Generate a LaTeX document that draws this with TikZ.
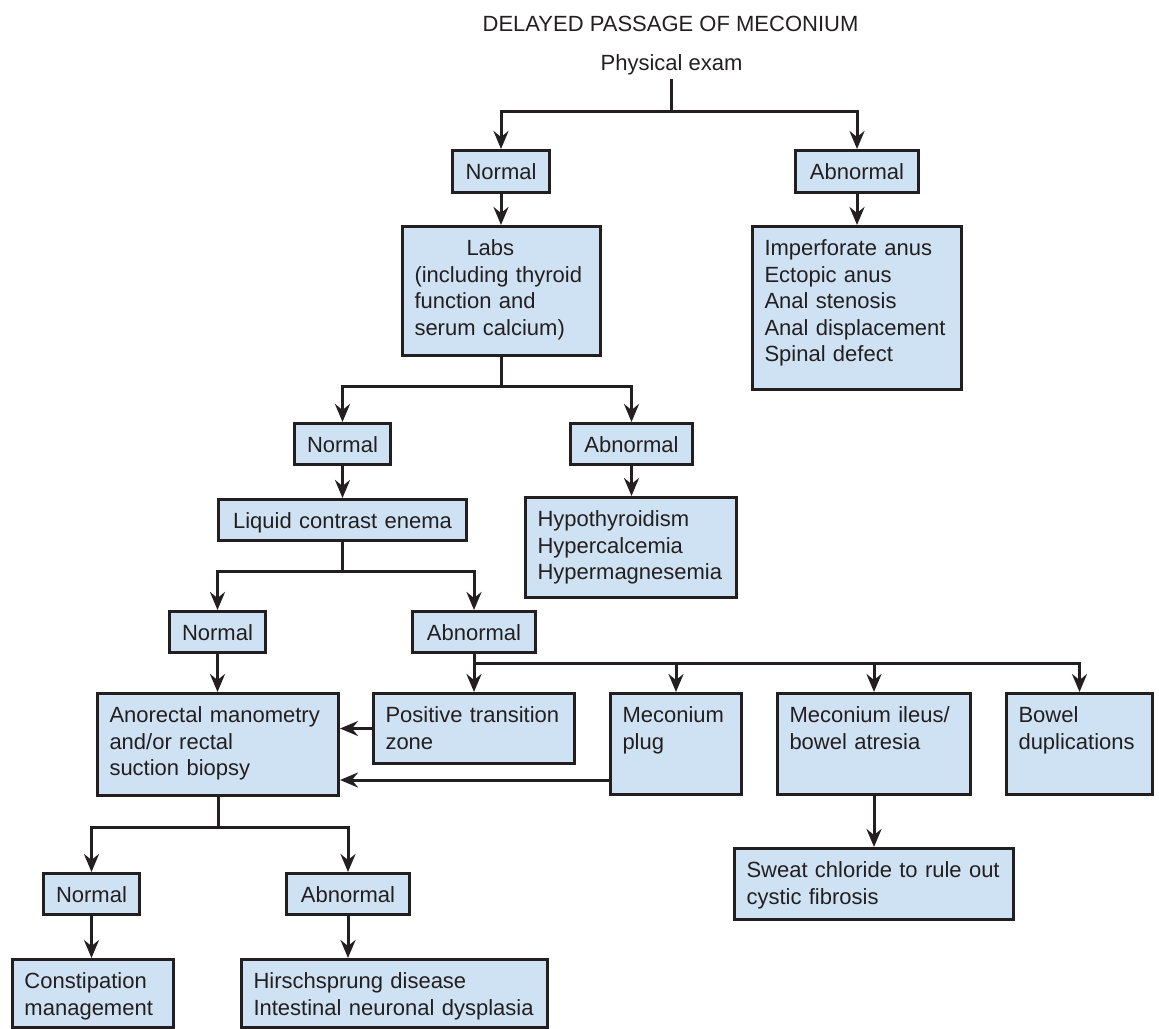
\documentclass[tikz,border=0pt]{standalone}
\usepackage{fontspec}
\setmainfont{Liberation Sans}
\usetikzlibrary{arrows.meta}
\definecolor{boxblue}{RGB}{207,226,243}
\definecolor{ink}{RGB}{35,31,32}
\hyphenpenalty=10000
\begin{document}
\begin{tikzpicture}[x=0.5pt,y=-0.5pt,
  every node/.style={font=\fontsize{11}{13.3}\selectfont,text=ink},
  box/.style={draw=ink,line width=1.5pt,fill=boxblue,anchor=north west,
    inner xsep=6pt,inner ysep=3.5pt,text height=11pt,align=left},
  tag/.style={box,align=center,text depth=2.5pt},
  conn/.style={draw=ink,line width=1.5pt},
  arr/.style={conn,-{Stealth[length=9pt,width=7.5pt,inset=3pt]}}]
  \useasboundingbox (0,0) rectangle (1159,1028);
  \node[anchor=base] (title) at (670.5,32) {DELAYED PASSAGE OF MECONIUM};
  \node[anchor=base,inner sep=2pt] (exam) at (671.5,70) {Physical exam};
  \node[tag,text width=36.5pt,text depth=3pt] (nA) at (451,149) {Normal};
  \node[tag,text width=49.5pt,text depth=3pt] (abA) at (794,149) {Abnormal};
  \node[box,text width=87pt,text depth=46.5pt] (labs) at (401,225)
    {\hspace*{26pt}Labs\\(including thyroid\\function and\\serum calcium)};
  \node[box,text width=92.5pt,text depth=63.5pt] (imperf) at (751,225)
    {Imperforate anus\\Ectopic anus\\Anal stenosis\\Anal displacement\\Spinal defect};
  \node[tag,text width=36pt] (nB) at (293,422) {Normal};
  \node[tag,text width=49pt] (abB) at (569,422) {Abnormal};
  \node[tag,text width=112pt] (liquid) at (217,498) {Liquid contrast enema};
  \node[box,text width=93.5pt,text depth=32pt] (hypo) at (524,496)
    {Hypothyroidism\\Hypercalcemia\\Hypermagnesemia};
  \node[tag,text width=36pt] (nC) at (168,610) {Normal};
  \node[tag,text width=49.5pt] (abC) at (411,610) {Abnormal};
  \node[box,text width=108.5pt,text depth=33pt] (anorectal) at (96,692)
    {Anorectal manometry\\and/or rectal\\suction biopsy};
  \node[box,text width=88.5pt,text depth=17pt] (positive) at (372,692)
    {Positive transition\\zone};
  \node[box,text width=53.5pt,text depth=32.5pt] (plug) at (609,692)
    {Meconium\\plug};
  \node[box,text width=84.5pt,text depth=32.5pt] (ileus) at (776,692)
    {Meconium ileus/\\bowel atresia};
  \node[box,text width=61pt,text depth=32.5pt] (bowel) at (1005,692)
    {Bowel\\duplications};
  \node[box,text width=127.5pt,text depth=17.5pt] (sweat) at (733,847)
    {Sweat chloride to rule out\\cystic fibrosis};
  \node[tag,text width=36pt] (nD) at (42,872) {Normal};
  \node[tag,text width=49.5pt] (abD) at (285,872) {Abnormal};
  \node[box,text width=68.5pt,text depth=16pt] (constip) at (11,958)
    {Constipation\\management};
  \node[box,text width=141pt,text depth=16pt] (hirsch) at (240,958)
    {Hirschsprung disease\\Intestinal neuronal dysplasia};
  \draw[conn] (exam.south) -- (exam.south |- 0,111) coordinate (jA);
  \draw[arr] (jA) -| (nA.north);
  \draw[arr] (jA) -| (abA.north);
  \draw[arr] (nA.south) -- (nA.south |- labs.north);
  \draw[arr] (abA.south) -- (abA.south |- imperf.north);
  \draw[conn] (labs.south) -- (labs.south |- 0,386) coordinate (jB);
  \draw[arr] (jB) -| (nB.north);
  \draw[arr] (jB) -| (abB.north);
  \draw[arr] (nB.south) -- (nB.south |- liquid.north);
  \draw[arr] (abB.south) -- (abB.south |- hypo.north);
  \draw[conn] (liquid.south) -- (liquid.south |- 0,571) coordinate (jC);
  \draw[arr] (jC) -| (nC.north);
  \draw[arr] (jC) -| (abC.north);
  \draw[arr] (nC.south) -- (nC.south |- anorectal.north);
  \draw[arr] (abC.south) -- (abC.south |- positive.north);
  \coordinate (jD) at (abC.south |- 0,663);
  \draw[arr] (jD) -| (plug.north);
  \draw[arr] (jD) -| (ileus.north);
  \draw[arr] (jD) -| (bowel.north);
  \draw[arr] (positive.west) -- (positive.west -| anorectal.east);
  \coordinate (pm) at ([yshift=8pt]plug.south west);
  \draw[arr] (pm) -- (pm -| anorectal.east);
  \draw[arr] (ileus.south) -- (ileus.south |- sweat.north);
  \draw[conn] (anorectal.south) -- (anorectal.south |- 0,827) coordinate (jE);
  \draw[arr] (jE) -| (nD.north);
  \draw[arr] (jE) -| (abD.north);
  \draw[arr] (nD.south) -- (nD.south |- constip.north);
  \draw[arr] (abD.south) -- (abD.south |- hirsch.north);
\end{tikzpicture}
\end{document}
